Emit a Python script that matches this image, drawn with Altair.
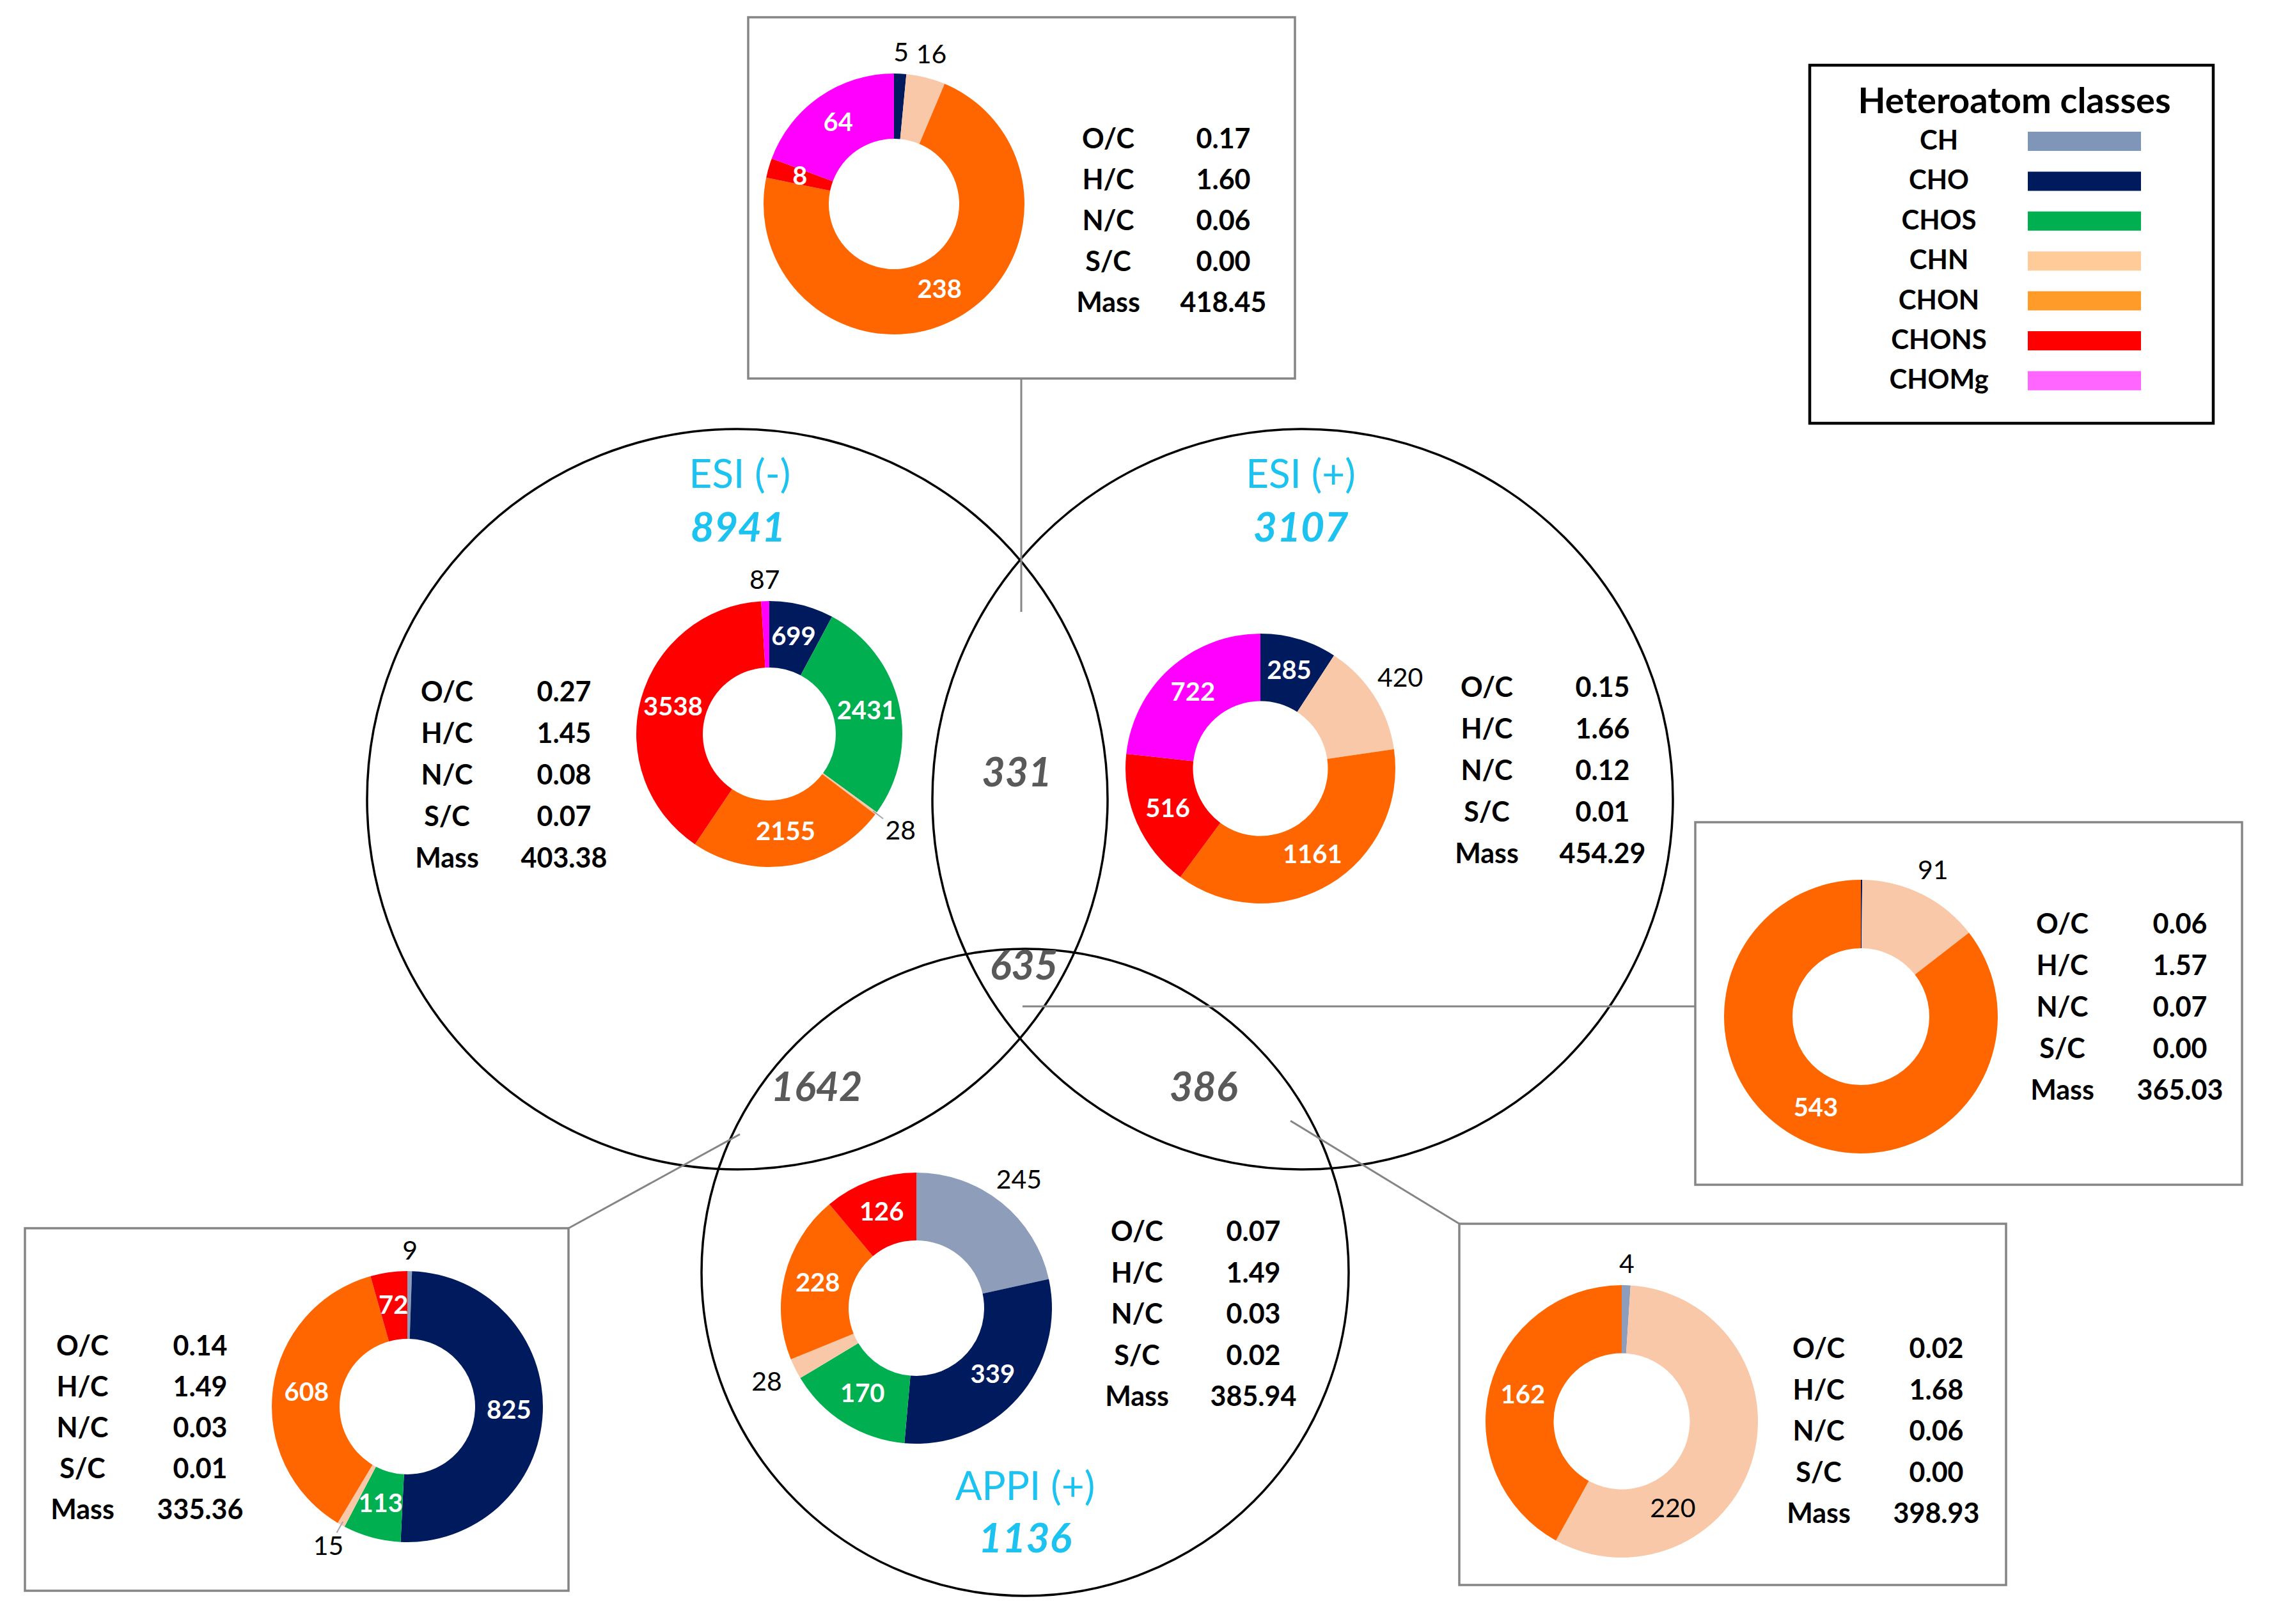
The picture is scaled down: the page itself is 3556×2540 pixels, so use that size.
import math
import altair as alt
import pandas as pd

# ------------------------------------------------------------------
# DATA
# ------------------------------------------------------------------
CLASSES = ["CH", "CHO", "CHOS", "CHN", "CHON", "CHONS", "CHOMg"]

REGION_KEYS = ["neg_pos", "esi_neg", "esi_pos", "all3", "neg_appi", "appi", "pos_appi"]

# counts per heteroatom class, in CLASSES order
COUNTS_NEG_POS = [0, 5, 0, 16, 238, 8, 64]          # ESI(-) & ESI(+) only (331)
COUNTS_ESI_NEG = [0, 699, 2431, 28, 2155, 3538, 87]  # ESI(-) (8941)
COUNTS_ESI_POS = [0, 285, 0, 420, 1161, 516, 722]    # ESI(+) (3107)
COUNTS_ALL3 = [0, 1, 0, 91, 543, 0, 0]               # all three (635)
COUNTS_NEG_APPI = [9, 825, 113, 15, 608, 72, 0]      # ESI(-) & APPI(+) (1642)
COUNTS_APPI = [245, 339, 170, 28, 228, 126, 0]       # APPI(+) (1136)
COUNTS_POS_APPI = [4, 0, 0, 220, 162, 0, 0]          # ESI(+) & APPI(+) (386)

STAT_NAMES = ["O/C", "H/C", "N/C", "S/C", "Mass"]
STATS_NEG_POS = [0.17, 1.60, 0.06, 0.00, 418.45]
STATS_ESI_NEG = [0.27, 1.45, 0.08, 0.07, 403.38]
STATS_ESI_POS = [0.15, 1.66, 0.12, 0.01, 454.29]
STATS_ALL3 = [0.06, 1.57, 0.07, 0.00, 365.03]
STATS_NEG_APPI = [0.14, 1.49, 0.03, 0.01, 335.36]
STATS_APPI = [0.07, 1.49, 0.03, 0.02, 385.94]
STATS_POS_APPI = [0.02, 1.68, 0.06, 0.00, 398.93]

VENN_SETS = ["ESI (-)", "ESI (+)", "APPI (+)"]
VENN_TOTALS = [8941, 3107, 1136]
OVERLAP_NAMES = ["ESI(-)&ESI(+)", "all", "ESI(-)&APPI(+)", "ESI(+)&APPI(+)"]
OVERLAP_COUNTS = [331, 635, 1642, 386]

LEGEND_TITLE = "Heteroatom classes"

COUNTS = {
    "neg_pos": COUNTS_NEG_POS, "esi_neg": COUNTS_ESI_NEG, "esi_pos": COUNTS_ESI_POS,
    "all3": COUNTS_ALL3, "neg_appi": COUNTS_NEG_APPI, "appi": COUNTS_APPI,
    "pos_appi": COUNTS_POS_APPI,
}
STATS = {
    "neg_pos": STATS_NEG_POS, "esi_neg": STATS_ESI_NEG, "esi_pos": STATS_ESI_POS,
    "all3": STATS_ALL3, "neg_appi": STATS_NEG_APPI, "appi": STATS_APPI,
    "pos_appi": STATS_POS_APPI,
}

# label placement (as in the figure)
OUTSIDE_LABELS = {("neg_pos", "CHO"), ("neg_pos", "CHN"), ("esi_neg", "CHN"),
                  ("esi_neg", "CHOMg"), ("esi_pos", "CHN"), ("all3", "CHN"),
                  ("neg_appi", "CH"), ("neg_appi", "CHN"), ("appi", "CH"),
                  ("appi", "CHN"), ("pos_appi", "CH")}
LEADER_LABELS = {("esi_neg", "CHN"), ("neg_appi", "CHN")}
UNLABELED = {("all3", "CHO")}
DARK_CLASSES = {"CH", "CHN"}
LABEL_ANGLE_DEG = {("pos_appi", "CHN"): 150}   # label moved along the ring in the figure

# ------------------------------------------------------------------
# STYLE / LAYOUT
# ------------------------------------------------------------------
FONT = "Lato"
DONUT_COLORS = {"CH": "#8D9DBA", "CHO": "#001A5E", "CHOS": "#00AF4F", "CHN": "#F9C8A8",
                "CHON": "#FF6600", "CHONS": "#FF0000", "CHOMg": "#FF00FF"}
LEGEND_COLORS = {"CH": "#7F96B8", "CHO": "#001A5E", "CHOS": "#00B050", "CHN": "#FFCC99",
                 "CHON": "#FF9B29", "CHONS": "#FF0000", "CHOMg": "#FF66FF"}
CYAN = "#1CC2F0"
GREY_TXT = "#595959"
GREY_LINE = "#858585"

W, H = 3530, 2510
OFF = 8

DONUT_LAYOUT = {  # centre x, centre y, outer radius (page pixels)
    "neg_pos": (1398, 319, 204),
    "esi_neg": (1203, 1148, 208),
    "esi_pos": (1971, 1202, 211),
    "all3": (2910, 1590, 214),
    "neg_appi": (637, 2200, 212),
    "appi": (1433, 2046, 212),
    "pos_appi": (2536, 2223, 213),
}
TABLE_LAYOUT = {  # label column x, value column x, first row y, row step
    "neg_pos": (1733, 1913, 219, 64),
    "esi_neg": (699, 882, 1084, 65),
    "esi_pos": (2325, 2506, 1077, 65),
    "all3": (3225, 3409, 1447, 65),
    "neg_appi": (129, 313, 2107, 64),
    "appi": (1778, 1960, 1928, 64.5),
    "pos_appi": (2844, 3028, 2111, 64.5),
}
VENN_CIRCLES = [(1153, 1250, 579), (2037, 1250, 579), (1603, 1990, 506)]
VENN_NAME_POS = [(1157, 744), (2034, 744), (1603, 2327)]
VENN_TOTAL_POS = [(1154, 828), (2034, 828), (1603, 2409)]
OVERLAP_POS = [(1590, 1211), (1601, 1513), (1277, 1703), (1882, 1703)]
BOXES = [(1170, 27, 2025, 592), (2651, 1286, 3506, 1853),
         (39, 1921, 889, 2488), (2282, 1914, 3137, 2479)]
LEGEND_BOX = (2830, 102, 3461, 662)
CONNECTORS = [(1597, 592, 1597, 957), (1599, 1574, 2651, 1574),
              (1157, 1774, 889, 1921), (2018, 1753, 2282, 1914)]
LEGEND_TITLE_POS = (3150, 160)
LEGEND_LABEL_X = 3032
LEGEND_SWATCH_X = (3171, 3348)
LEGEND_ROW0, LEGEND_STEP, LEGEND_SWATCH_H = 221, 62.4, 30

XS = alt.Scale(domain=[OFF, OFF + W], nice=False, zero=False)
YS = alt.Scale(domain=[OFF, OFF + H], nice=False, zero=False, reverse=True)


def X(f):
    return alt.X(f"{f}:Q", scale=XS, axis=None)


def Y(f):
    return alt.Y(f"{f}:Q", scale=YS, axis=None)


# ------------------------------------------------------------------
# TABLES
# ------------------------------------------------------------------
seg_rows = []
for reg in REGION_KEYS:
    cx, cy, ro = DONUT_LAYOUT[reg]
    for i, cls in enumerate(CLASSES):
        ang = LABEL_ANGLE_DEG.get((reg, cls))
        seg_rows.append(dict(
            region=reg, cls=cls, order=i, value=COUNTS[reg][i],
            cx=cx, cy=cy, ro=ro, ri=ro / 2, hex=DONUT_COLORS[cls],
            outside=int((reg, cls) in OUTSIDE_LABELS),
            leader=int((reg, cls) in LEADER_LABELS),
            show=int((reg, cls) not in UNLABELED),
            dark=int(cls in DARK_CLASSES),
            ang=(math.radians(ang) if ang is not None else -1.0)))
seg_df = pd.DataFrame(seg_rows)

tab_rows = []
for reg in REGION_KEYS:
    lx, vx, y0, step = TABLE_LAYOUT[reg]
    for j, name in enumerate(STAT_NAMES):
        tab_rows.append(dict(region=reg, stat=name, val=STATS[reg][j],
                             lx=lx, vx=vx, y=y0 + j * step))
tab_df = pd.DataFrame(tab_rows)

circ_df = pd.DataFrame([dict(name=n, x=c[0], y=c[1], s=(2 * c[2]) ** 2)
                        for n, c in zip(VENN_SETS, VENN_CIRCLES)])
name_df = pd.DataFrame([dict(name=n, x=p[0], y=p[1]) for n, p in zip(VENN_SETS, VENN_NAME_POS)])
total_df = pd.DataFrame([dict(total=t, x=p[0], y=p[1]) for t, p in zip(VENN_TOTALS, VENN_TOTAL_POS)])
over_df = pd.DataFrame([dict(name=n, count=c, x=p[0], y=p[1])
                        for n, c, p in zip(OVERLAP_NAMES, OVERLAP_COUNTS, OVERLAP_POS)])
box_df = pd.DataFrame([dict(x=b[0], y=b[1], x2=b[2], y2=b[3]) for b in BOXES])
lbox_df = pd.DataFrame([dict(x=LEGEND_BOX[0], y=LEGEND_BOX[1], x2=LEGEND_BOX[2], y2=LEGEND_BOX[3])])
conn_df = pd.DataFrame([dict(x=c[0], y=c[1], x2=c[2], y2=c[3]) for c in CONNECTORS])
leg_df = pd.DataFrame([dict(cls=c, hex=LEGEND_COLORS[c], lx=LEGEND_LABEL_X,
                            sx=LEGEND_SWATCH_X[0], sx2=LEGEND_SWATCH_X[1],
                            y=LEGEND_ROW0 + i * LEGEND_STEP,
                            sy=LEGEND_ROW0 + i * LEGEND_STEP - LEGEND_SWATCH_H / 2,
                            sy2=LEGEND_ROW0 + i * LEGEND_STEP + LEGEND_SWATCH_H / 2)
                       for i, c in enumerate(CLASSES)])
ltitle_df = pd.DataFrame([dict(t=LEGEND_TITLE, x=LEGEND_TITLE_POS[0], y=LEGEND_TITLE_POS[1])])

# ------------------------------------------------------------------
# LAYERS
# ------------------------------------------------------------------
circles = alt.Chart(circ_df).mark_point(shape="circle", filled=False, stroke="black",
                                        strokeWidth=3.5, opacity=1).encode(
    x=X("x"), y=Y("y"), size=alt.Size("s:Q", scale=None))

connectors = alt.Chart(conn_df).mark_rule(color=GREY_LINE, strokeWidth=3).encode(
    x=X("x"), y=Y("y"), x2="x2:Q", y2="y2:Q")

boxes = alt.Chart(box_df).mark_rect(fillOpacity=0, stroke=GREY_LINE, strokeWidth=3.5).encode(
    x=X("x"), y=Y("y"), x2="x2:Q", y2="y2:Q")

legend_box = alt.Chart(lbox_df).mark_rect(fillOpacity=0, stroke="black", strokeWidth=4.5).encode(
    x=X("x"), y=Y("y"), x2="x2:Q", y2="y2:Q")

seg_base = (
    alt.Chart(seg_df)
    .transform_filter("datum.value > 0")
    .transform_joinaggregate(total="sum(value)", groupby=["region"])
    .transform_window(cum="sum(value)", groupby=["region"],
                      sort=[alt.SortField("order", order="ascending")], frame=[None, 0])
    .transform_calculate(a0="2*PI*(datum.cum - datum.value)/datum.total",
                         a1="2*PI*datum.cum/datum.total")
    .transform_calculate(mid="(datum.a0 + datum.a1)/2")
)

arcs = seg_base.mark_arc(strokeWidth=0).encode(
    x=X("cx"), y=Y("cy"),
    theta=alt.Theta("a0:Q", scale=None, stack=None),
    theta2=alt.Theta2("a1:Q"),
    radius=alt.Radius("ro:Q", scale=None),
    radius2=alt.Radius2("ri:Q"),
    color=alt.Color("hex:N", scale=None),
)

lab_base = (
    seg_base.transform_filter("datum.show == 1")
    .transform_calculate(
        la="datum.ang >= 0 ? datum.ang : datum.mid")
    .transform_calculate(
        lr="datum.outside == 1 ? datum.ro + 30 + 22*abs(sin(datum.la)) : (datum.ro + datum.ri)/2")
    .transform_calculate(lx="datum.cx + datum.lr*sin(datum.la)",
                         ly="datum.cy - datum.lr*cos(datum.la)")
)

white_labels = lab_base.transform_filter("datum.outside == 0 && datum.dark == 0").mark_text(
    font=FONT, fontWeight="bold", fontSize=40, color="white", align="center", baseline="middle"
).encode(x=X("lx"), y=Y("ly"), text=alt.Text("value:Q", format="d"))

dark_labels = lab_base.transform_filter("datum.outside == 1 || datum.dark == 1").mark_text(
    font=FONT, fontSize=41, color="black", align="center", baseline="middle"
).encode(x=X("lx"), y=Y("ly"), text=alt.Text("value:Q", format="d"))

leaders = (
    seg_base.transform_filter("datum.leader == 1")
    .transform_calculate(
        px="datum.cx + (datum.ro - 6)*sin(datum.mid)",
        py="datum.cy - (datum.ro - 6)*cos(datum.mid)",
        qx="datum.cx + (datum.ro + 14)*sin(datum.mid)",
        qy="datum.cy - (datum.ro + 14)*cos(datum.mid)")
    .mark_rule(color="#A6A6A6", strokeWidth=2)
    .encode(x=X("px"), y=Y("py"), x2="qx:Q", y2="qy:Q")
)

tab_labels = alt.Chart(tab_df).mark_text(
    font=FONT, fontWeight="bold", fontSize=43, color="black", align="center", baseline="middle"
).encode(x=X("lx"), y=Y("y"), text="stat:N")

tab_values = alt.Chart(tab_df).mark_text(
    font=FONT, fontWeight="bold", fontSize=43, color="black", align="center", baseline="middle"
).encode(x=X("vx"), y=Y("y"), text=alt.Text("val:Q", format=".2f"))

venn_names = alt.Chart(name_df).mark_text(
    font=FONT, fontSize=62, color=CYAN, align="center", baseline="middle"
).encode(x=X("x"), y=Y("y"), text="name:N")

venn_totals = alt.Chart(total_df).mark_text(
    font=FONT, fontSize=64, fontWeight="bold", fontStyle="italic", color=CYAN,
    align="center", baseline="middle"
).encode(x=X("x"), y=Y("y"), text=alt.Text("total:Q", format="d"))

overlaps = alt.Chart(over_df).mark_text(
    font=FONT, fontSize=63, fontWeight="bold", fontStyle="italic", color=GREY_TXT,
    align="center", baseline="middle"
).encode(x=X("x"), y=Y("y"), text=alt.Text("count:Q", format="d"))

legend_title = alt.Chart(ltitle_df).mark_text(
    font=FONT, fontSize=56, fontWeight="bold", color="black", align="center", baseline="middle"
).encode(x=X("x"), y=Y("y"), text="t:N")

legend_labels = alt.Chart(leg_df).mark_text(
    font=FONT, fontSize=42, fontWeight="bold", color="black", align="center", baseline="middle"
).encode(x=X("lx"), y=Y("y"), text="cls:N")

legend_swatches = alt.Chart(leg_df).mark_rect().encode(
    x=X("sx"), y=Y("sy"), x2="sx2:Q", y2="sy2:Q", color=alt.Color("hex:N", scale=None))

chart = alt.layer(
    circles, connectors, boxes, legend_box, arcs, leaders, white_labels, dark_labels,
    tab_labels, tab_values, venn_names, venn_totals, overlaps,
    legend_title, legend_labels, legend_swatches,
).properties(
    width=W, height=H, padding=0, background="white"
).configure_view(stroke=None)

chart.save("out.html", embed_options={"renderer": "svg", "actions": False})
